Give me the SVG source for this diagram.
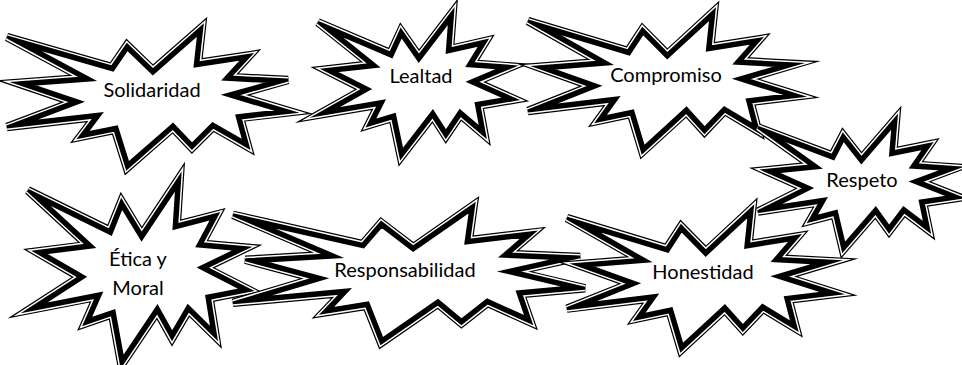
<svg xmlns="http://www.w3.org/2000/svg" xmlns:xlink="http://www.w3.org/1999/xlink" width="962" height="365" viewBox="0 0 962 365">
<style>
.o{fill:none;stroke:#000;stroke-width:8.4;stroke-linejoin:miter;stroke-miterlimit:6}
.g{fill:#fff;stroke:#fff;stroke-width:6;stroke-linejoin:miter;stroke-miterlimit:6}
.m{fill:none;stroke:#000;stroke-width:3;stroke-linejoin:miter;stroke-miterlimit:6}
.i{fill:none;stroke:#000;stroke-width:8;stroke-linejoin:miter;stroke-miterlimit:6}
.t{font-family:Lato,"Open Sans",sans-serif;font-size:20px;fill:#000;text-anchor:middle}
</style>
<defs>
<polygon id="seal" vector-effect="non-scaling-stroke" points="0,71 368,284 421,128 512,305 684,0 670,255 853,199 782,355 986,376 800,482 1000,603 818,645 846,851 723,709 649,858 582,716 421,1000 379,730 256,780 309,638 0,709 232,532 35,397 267,362"/>
<clipPath id="clip"><use xlink:href="#seal"/></clipPath>
</defs>
<rect width="962" height="365" fill="#fff"/>
<g id="connectors"/>
<g id="n-solidaridad">
<g transform="translate(7,27) scale(0.285,0.141)"><use xlink:href="#seal" class="o"/><use xlink:href="#seal" class="g"/><use xlink:href="#seal" class="m"/><use xlink:href="#seal" class="i" clip-path="url(#clip)"/></g>
<text class="t" x="152" y="97">Solidaridad</text>
</g>
<g id="n-lealtad">
<g transform="translate(318,12) scale(0.197,0.145)"><use xlink:href="#seal" class="o"/><use xlink:href="#seal" class="g"/><use xlink:href="#seal" class="m"/><use xlink:href="#seal" class="i" clip-path="url(#clip)"/></g>
<text class="t" x="421" y="83">Lealtad</text>
</g>
<g id="n-compromiso">
<g transform="translate(528,11) scale(0.272,0.141)"><use xlink:href="#seal" class="o"/><use xlink:href="#seal" class="g"/><use xlink:href="#seal" class="m"/><use xlink:href="#seal" class="i" clip-path="url(#clip)"/></g>
<text class="t" x="666" y="82">Compromiso</text>
</g>
<g id="n-respeto">
<g transform="translate(758,118) scale(0.202,0.132)"><use xlink:href="#seal" class="o"/><use xlink:href="#seal" class="g"/><use xlink:href="#seal" class="m"/><use xlink:href="#seal" class="i" clip-path="url(#clip)"/></g>
<text class="t" x="862" y="187">Respeto</text>
</g>
<g id="n-etica">
<g transform="translate(28,177) scale(0.222,0.188)"><use xlink:href="#seal" class="o"/><use xlink:href="#seal" class="g"/><use xlink:href="#seal" class="m"/><use xlink:href="#seal" class="i" clip-path="url(#clip)"/></g>
<text class="t" x="138" y="266">Ética y</text>
<text class="t" x="138" y="295">Moral</text>
</g>
<g id="n-responsabilidad">
<g transform="translate(233,205) scale(0.352,0.138)"><use xlink:href="#seal" class="o"/><use xlink:href="#seal" class="g"/><use xlink:href="#seal" class="m"/><use xlink:href="#seal" class="i" clip-path="url(#clip)"/></g>
<text class="t" x="405" y="277">Responsabilidad</text>
</g>
<g id="n-honestidad">
<g transform="translate(567,208) scale(0.271,0.142)"><use xlink:href="#seal" class="o"/><use xlink:href="#seal" class="g"/><use xlink:href="#seal" class="m"/><use xlink:href="#seal" class="i" clip-path="url(#clip)"/></g>
<text class="t" x="703" y="279">Honestidad</text>
</g>
</svg>
